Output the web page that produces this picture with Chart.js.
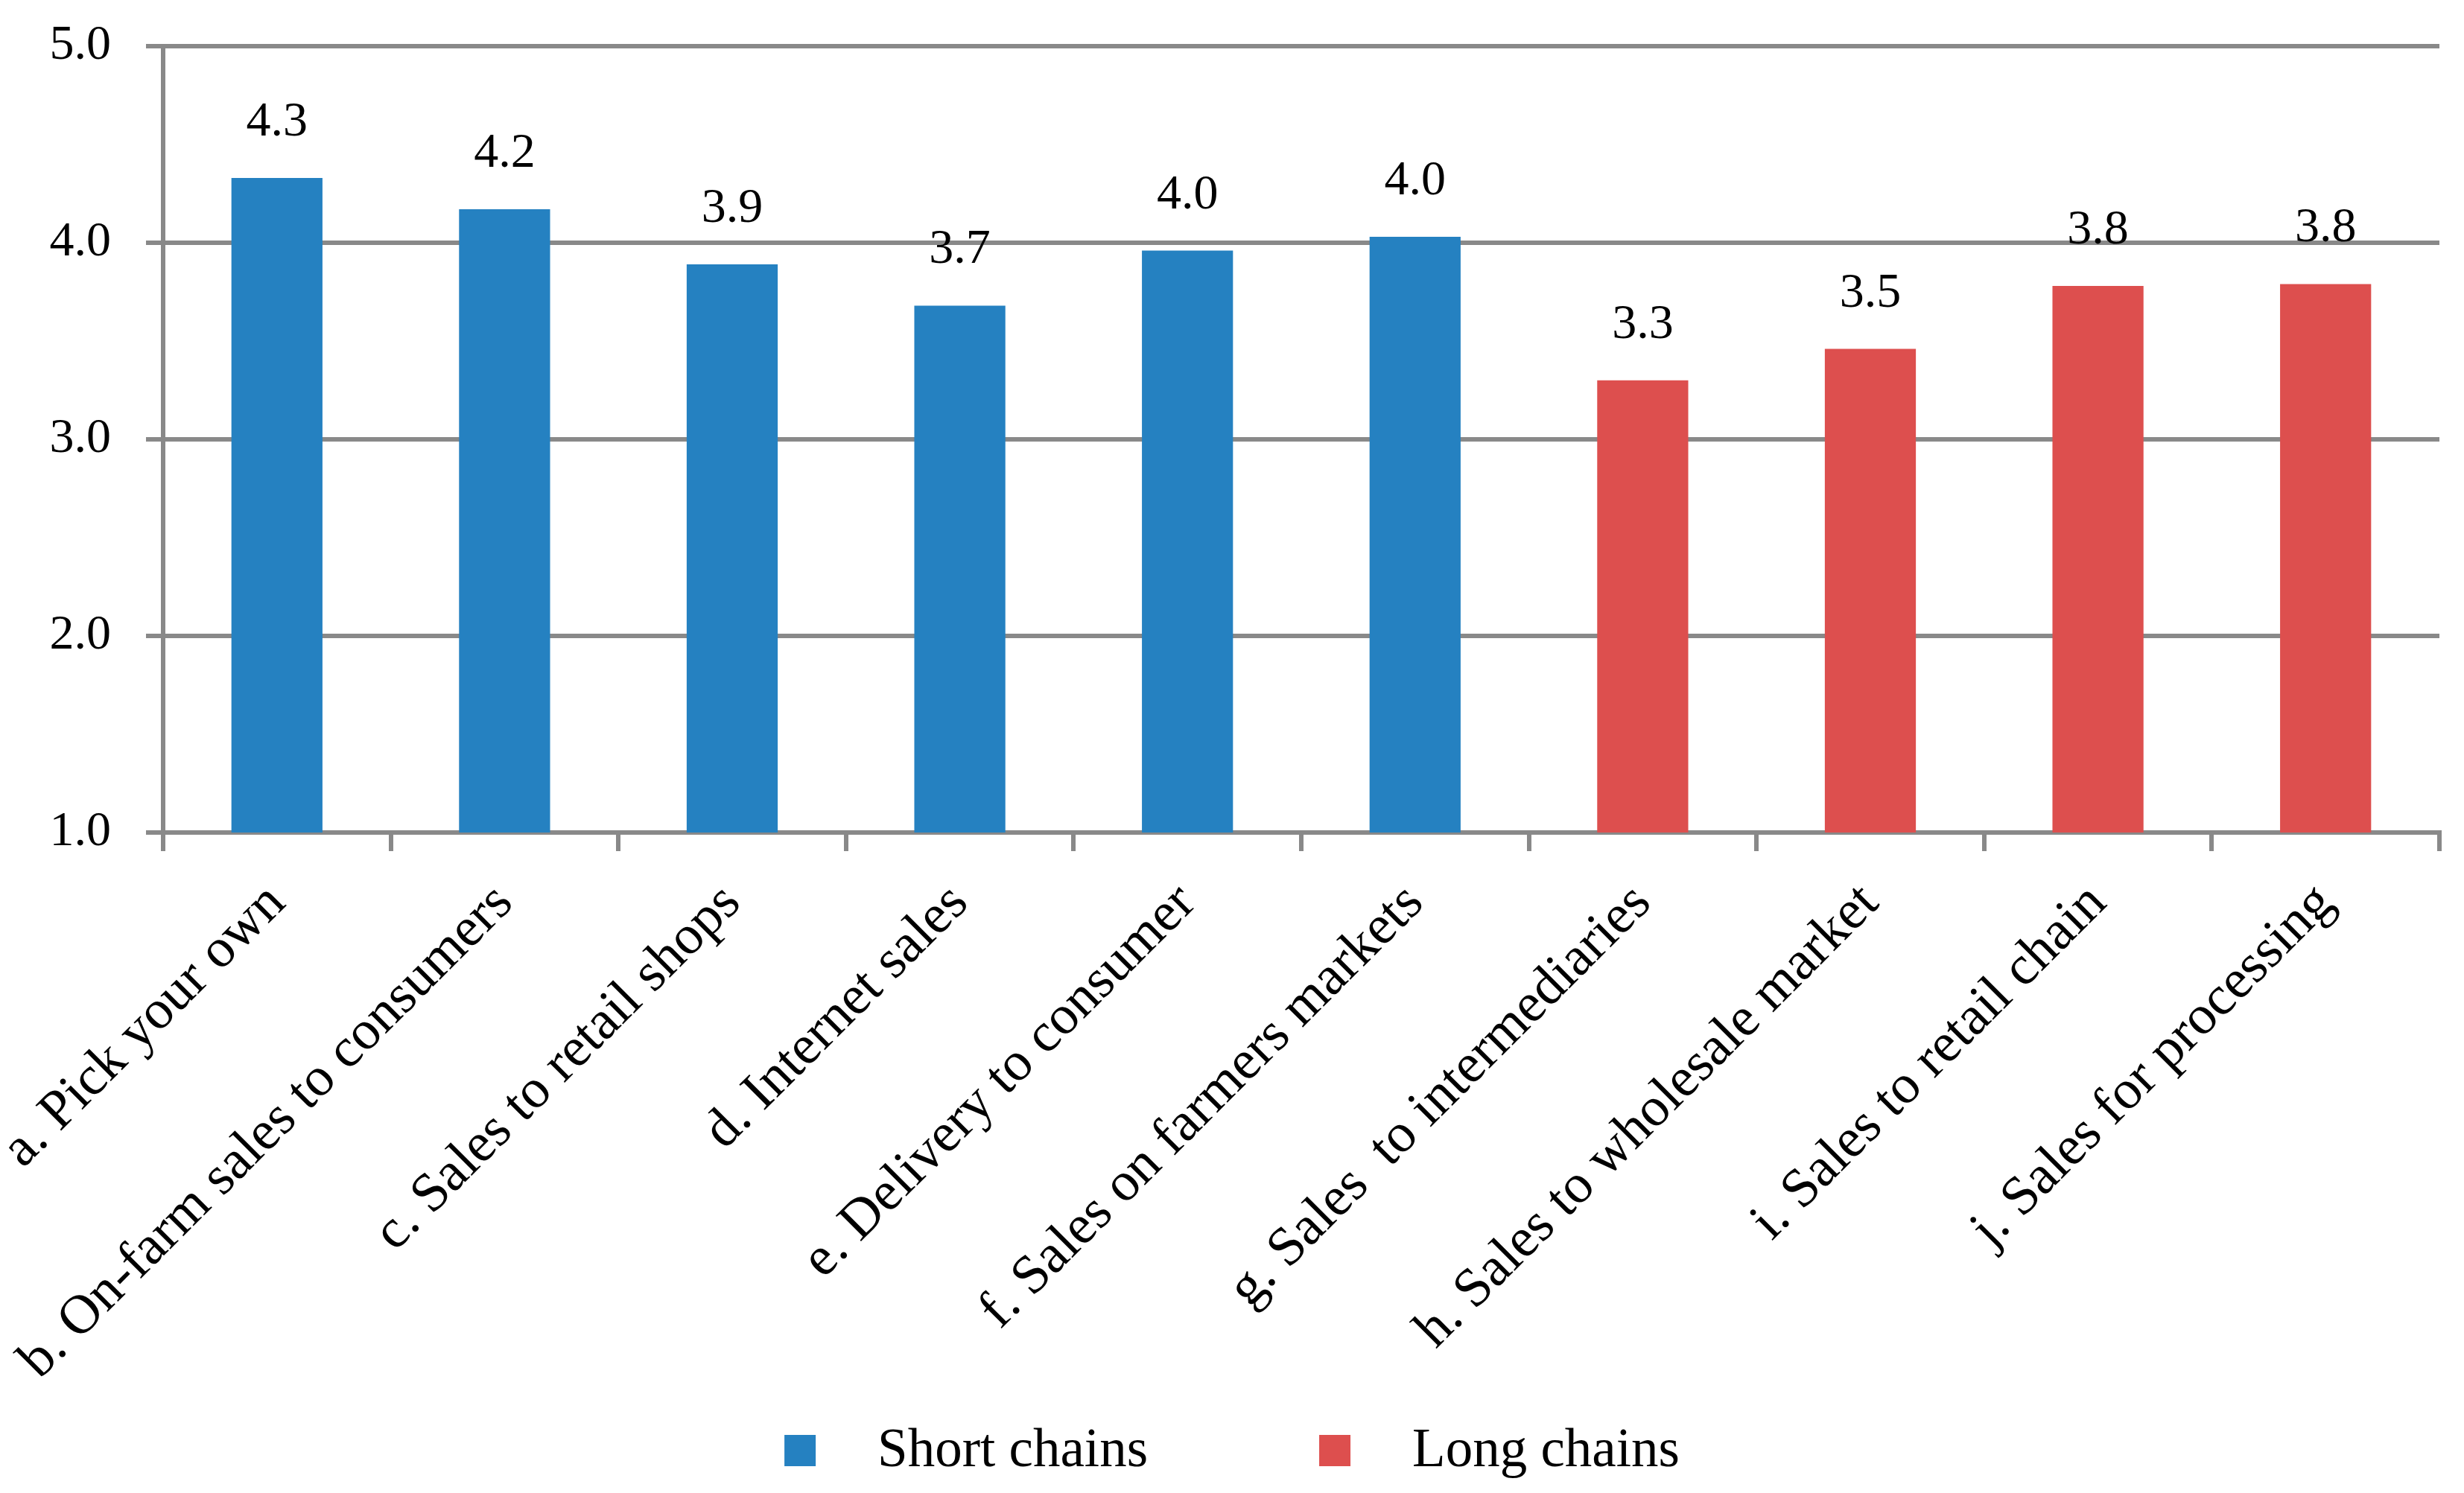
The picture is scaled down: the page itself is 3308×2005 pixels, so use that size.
<!DOCTYPE html>
<html>
<head>
<meta charset="utf-8">
<script src="https://cdn.jsdelivr.net/npm/chart.js@4"></script>
<style>
  body { margin: 0; background: #fff; }
  canvas { display: block; }
</style>
</head>
<body>
<canvas id="chart" width="3308" height="2005"></canvas>
<script>
const categories = [
  "a. Pick your own",
  "b. On-farm sales to consumers",
  "c. Sales to retail shops",
  "d. Internet sales",
  "e. Delivery to consumer",
  "f. Sales on farmers markets",
  "g. Sales  to intermediaries",
  "h. Sales to wholesale market",
  "i. Sales to retail chain",
  "j. Sales for processing"
];
const shortChains = [4.33, 4.17, 3.89, 3.68, 3.96, 4.03, null, null, null, null];
const longChains = [null, null, null, null, null, null, 3.30, 3.46, 3.78, 3.79];
const yTicks = [1, 2, 3, 4, 5];

const blue = "#2581c1";
const red = "#dd4f4e";
const gray = "#898989";
const serif = "'Liberation Serif', 'Times New Roman', serif";

// value above each bar
const valueLabels = {
  id: "valueLabels",
  afterDatasetsDraw(chart) {
    const ctx = chart.ctx;
    ctx.save();
    ctx.fillStyle = "#000";
    ctx.font = "66px " + serif;
    ctx.textAlign = "center";
    ctx.textBaseline = "alphabetic";
    chart.data.datasets.forEach((ds, di) => {
      const meta = chart.getDatasetMeta(di);
      meta.data.forEach((bar, i) => {
        const v = ds.data[i];
        if (v == null) return;
        ctx.fillText(v.toFixed(1), bar.x, bar.y - 57);
      });
    });
    ctx.restore();
  }
};

// legend drawn by hand so the spacing matches
const bottomLegend = {
  id: "bottomLegend",
  afterDraw(chart) {
    const ctx = chart.ctx;
    const box = 42, gap = 83, spacing = 230, y = 1948;
    ctx.save();
    ctx.font = "73px " + serif;
    ctx.textBaseline = "middle";
    const items = chart.data.datasets.map(ds => ({
      text: ds.label,
      color: ds.backgroundColor,
      w: box + gap + ctx.measureText(ds.label).width
    }));
    let total = items.reduce((s, it) => s + it.w, 0) + spacing * (items.length - 1);
    let x = (chart.width - total) / 2;
    items.forEach(it => {
      ctx.fillStyle = it.color;
      ctx.fillRect(x, y - box / 2, box, box);
      ctx.fillStyle = "#000";
      ctx.fillText(it.text, x + box + gap, y + 2);
      x += it.w + spacing;
    });
    ctx.restore();
  }
};

new Chart(document.getElementById("chart"), {
  type: "bar",
  data: {
    labels: categories,
    datasets: [
      { label: "Short chains", data: shortChains, backgroundColor: blue },
      { label: "Long chains", data: longChains, backgroundColor: red }
    ]
  },
  options: {
    responsive: false,
    devicePixelRatio: 1,
    animation: false,
    layout: { padding: { top: 62, right: 33, left: 0, bottom: 87 } },
    datasets: {
      bar: { grouped: false, categoryPercentage: 1, barPercentage: 0.4, borderWidth: 0 }
    },
    plugins: {
      legend: { display: false },
      tooltip: { enabled: false }
    },
    scales: {
      x: {
        afterFit(scale) {
          scale.height = 800;
          scale.paddingLeft = 0;
          scale.paddingRight = 0;
        },
        grid: {
          offset: true,
          drawOnChartArea: false,
          drawTicks: true,
          tickLength: 25,
          color: gray,
          lineWidth: 6
        },
        border: { display: true, color: gray, width: 6 },
        ticks: {
          autoSkip: false,
          minRotation: 45,
          maxRotation: 45,
          padding: 27,
          labelOffset: 0,
          color: "#000",
          font: { family: serif, size: 74 }
        }
      },
      y: {
        min: 1,
        max: 5,
        afterFit(scale) {
          scale.width = 219;
          scale.paddingTop = 0;
          scale.paddingBottom = 0;
        },
        afterBuildTicks(scale) { scale.ticks = yTicks.map(v => ({ value: v })); },
        grid: {
          color: gray,
          lineWidth: 6,
          tickLength: 23
        },
        border: { display: true, color: gray, width: 6 },
        ticks: {
          padding: 47,
          color: "#000",
          font: { family: serif, size: 66 },
          callback: v => v.toFixed(1)
        }
      }
    }
  },
  plugins: [valueLabels, bottomLegend]
});
</script>
</body>
</html>
